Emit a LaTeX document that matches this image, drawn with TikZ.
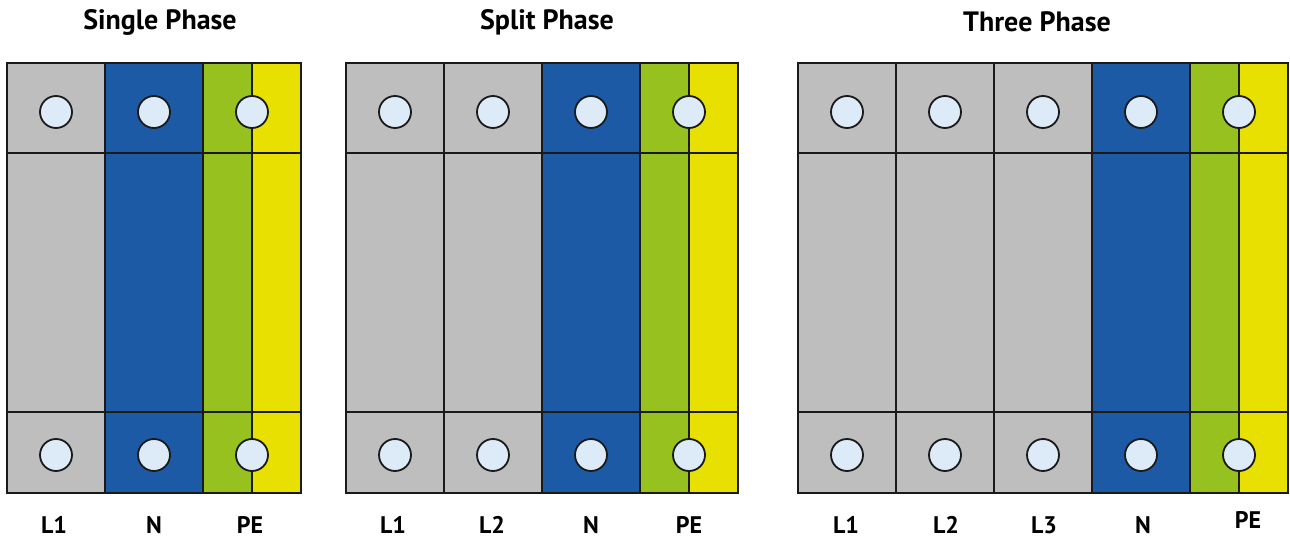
\documentclass[tikz,border=0pt]{standalone}
\usepackage{fontspec}
\setmainfont{PT Sans}
\definecolor{cgray}{HTML}{BEBEBE}
\definecolor{cblue}{HTML}{1D5AA6}
\definecolor{cgreen}{HTML}{97C11F}
\definecolor{cyellow}{HTML}{E8E000}
\definecolor{cterm}{HTML}{DCEBF7}
\definecolor{cline}{HTML}{1A1A1A}
\tikzset{
  grid line/.style={draw=cline, line width=1.6pt},
  outer line/.style={draw=cline, line width=2pt},
  terminal/.style={circle, draw=cline, line width=1.8pt, fill=cterm, minimum size=32pt, inner sep=0pt},
  title/.style={font=\bfseries\fontsize{28}{32}\selectfont, anchor=center},
  lab/.style={font=\bfseries\fontsize{24}{28}\selectfont, anchor=center}
}
\newcommand\drawpanel[3]{% #1 x0, #2 number of grey columns, #3 name prefix
  \pgfmathsetmacro\xb{#1+#2*98}
  \pgfmathsetmacro\xg{\xb+98}
  \pgfmathsetmacro\xy{\xg+49}
  \pgfmathsetmacro\xr{\xg+98}
  \fill[cgray] (#1,63) rectangle (\xb,493);
  \fill[cblue] (\xb,63) rectangle (\xg,493);
  \fill[cgreen] (\xg,63) rectangle (\xy,493);
  \fill[cyellow] (\xy,63) rectangle (\xr,493);
  \foreach \i in {1,...,#2} {
    \pgfmathsetmacro\xv{#1+\i*98}
    \draw[grid line] (\xv,63) -- (\xv,493);
  }
  \draw[grid line] (\xg,63) -- (\xg,493);
  \draw[grid line] (\xy,63) -- (\xy,493);
  \draw[grid line] (#1,153) -- (\xr,153);
  \draw[grid line] (#1,412) -- (\xr,412);
  \draw[outer line] (#1,63) rectangle (\xr,493);
  \pgfmathtruncatemacro\nc{#2+1}
  \foreach \i in {1,...,\nc} {
    \pgfmathsetmacro\xc{#1+(\i-0.5)*98}
    \node[terminal] (#3-top-\i) at (\xc,112) {};
    \node[terminal] (#3-bot-\i) at (\xc,455) {};
  }
  \node[terminal] (#3-top-pe) at (\xy,112) {};
  \node[terminal] (#3-bot-pe) at (\xy,455) {};
}
\begin{document}
\begin{tikzpicture}[x=1pt,y=-1pt]
\useasboundingbox (0,0) rectangle (1290,540);
\fill[white] (0,0) rectangle (1290,540);

\drawpanel{7}{1}{a}
\drawpanel{346}{2}{b}
\drawpanel{798}{3}{c}

\node[title] (title-a) at (160,22) {Single Phase};
\node[title] (title-b) at (547,22) {Split Phase};
\node[title] (title-c) at (1037,22) {Three Phase};

\node[lab] (a-l1) at (54,525) {L1};
\node[lab] (a-n)  at (154,525) {N};
\node[lab] (a-pe) at (250,525) {PE};

\node[lab] (b-l1) at (393,525) {L1};
\node[lab] (b-l2) at (492,525) {L2};
\node[lab] (b-n)  at (591,525) {N};
\node[lab] (b-pe) at (689,525) {PE};

\node[lab] (c-l1) at (846,525) {L1};
\node[lab] (c-l2) at (946,525) {L2};
\node[lab] (c-l3) at (1044,525) {L3};
\node[lab] (c-n)  at (1143,525) {N};
\node[lab] (c-pe) at (1248,520) {PE};
\end{tikzpicture}
\end{document}
